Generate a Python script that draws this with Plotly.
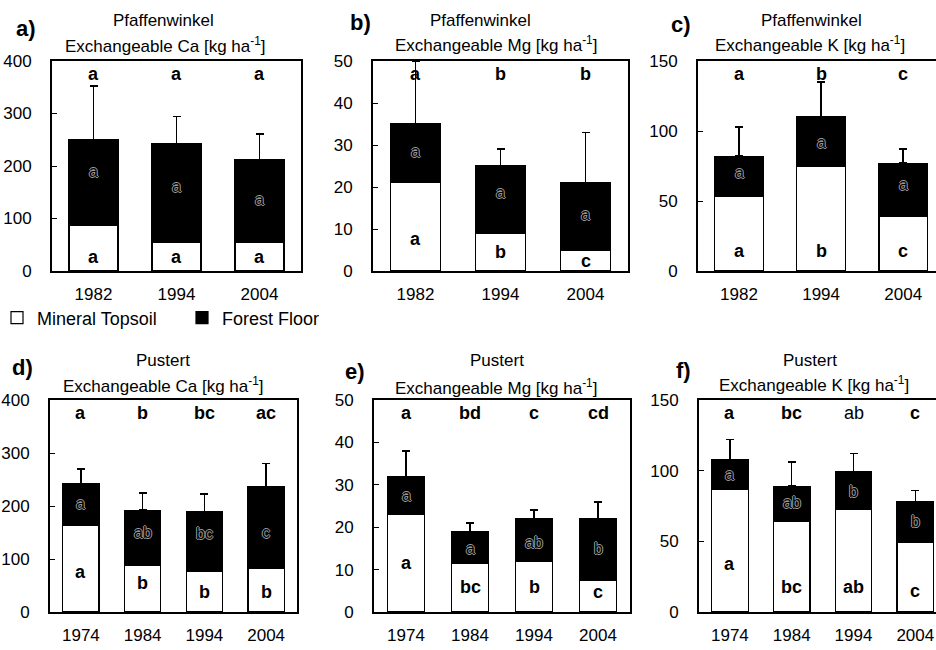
import plotly.graph_objects as go

FONT = "Liberation Sans, Arial, Helvetica, sans-serif"

# ---------------- data ----------------
pf_years = ["1982", "1994", "2004"]
pu_years = ["1974", "1984", "1994", "2004"]

# Pfaffenwinkel Ca
pf_ca_mineral = [87, 54, 54]
pf_ca_forest = [163, 188, 158]
pf_ca_sd = [102, 52, 49]
pf_ca_top = ["a", "a", "a"]
pf_ca_min_lab = ["a", "a", "a"]
pf_ca_min_lab_y = [27, 27, 27]
pf_ca_for_lab = ["a", "a", "a"]
pf_ca_for_lab_y = [190, 161, 136]

# Pfaffenwinkel Mg
pf_mg_mineral = [21, 9, 5]
pf_mg_forest = [14, 16, 16]
pf_mg_sd = [15, 4, 12]
pf_mg_top = ["a", "b", "b"]
pf_mg_min_lab = ["a", "b", "c"]
pf_mg_min_lab_y = [7.5, 4.5, 2.4]
pf_mg_for_lab = ["a", "a", "a"]
pf_mg_for_lab_y = [28.5, 18.7, 13.5]

# Pfaffenwinkel K
pf_k_mineral = [53, 75, 39]
pf_k_forest = [29, 35, 38]
pf_k_sd = [21, 25, 10]
pf_k_top = ["a", "b", "c"]
pf_k_min_lab = ["a", "b", "c"]
pf_k_min_lab_y = [14, 14, 14]
pf_k_for_lab = ["a", "a", "a"]
pf_k_for_lab_y = [70, 92, 62]

# Pustert Ca
pu_ca_mineral = [163, 88, 77, 83]
pu_ca_forest = [79, 104, 113, 154]
pu_ca_sd = [28, 33, 33, 43]
pu_ca_top = ["a", "b", "bc", "ac"]
pu_ca_min_lab = ["a", "b", "b", "b"]
pu_ca_min_lab_y = [75, 54, 38, 38]
pu_ca_for_lab = ["a", "ab", "bc", "c"]
pu_ca_for_lab_y = [205, 150, 148, 150]

# Pustert Mg
pu_mg_mineral = [23, 11.5, 12, 7.5]
pu_mg_forest = [9, 7.5, 10, 14.5]
pu_mg_sd = [6, 2, 2, 4]
pu_mg_top = ["a", "bd", "c", "cd"]
pu_mg_min_lab = ["a", "bc", "b", "c"]
pu_mg_min_lab_y = [11.6, 5.9, 5.9, 4.7]
pu_mg_for_lab = ["a", "a", "ab", "b"]
pu_mg_for_lab_y = [27.4, 15, 16.5, 15]

# Pustert K
pu_k_mineral = [87, 64, 72.5, 49]
pu_k_forest = [21, 25, 26.5, 29]
pu_k_sd = [14, 17, 13, 8]
pu_k_top = ["a", "bc", "ab", "c"]
pu_k_top_bold = [True, True, False, True]
pu_k_min_lab = ["a", "bc", "ab", "c"]
pu_k_min_lab_y = [34, 18, 18, 15]
pu_k_for_lab = ["a", "ab", "b", "b"]
pu_k_for_lab_y = [97, 77.5, 85, 64]

# ---------------- layout helpers ----------------
W, H = 936, 650


def px_x(v):
    return v / W


def px_y(v):
    return 1 - v / H


panels = [
    dict(tag="a)", site="Pfaffenwinkel", elem="Ca", years=pf_years,
         mineral=pf_ca_mineral, forest=pf_ca_forest, sd=pf_ca_sd,
         top=pf_ca_top, top_bold=None, min_lab=pf_ca_min_lab, min_y=pf_ca_min_lab_y,
         for_lab=pf_ca_for_lab, for_y=pf_ca_for_lab_y,
         ymax=400, dtick=100, xdom=(52, 301), ydom=(61, 271), xr=(-0.5, 2.5),
         tag_xy=(26, 28), site_xy=(163, 20), elem_xy=(165, 45)),
    dict(tag="b)", site="Pfaffenwinkel", elem="Mg", years=pf_years,
         mineral=pf_mg_mineral, forest=pf_mg_forest, sd=pf_mg_sd,
         top=pf_mg_top, top_bold=None, min_lab=pf_mg_min_lab, min_y=pf_mg_min_lab_y,
         for_lab=pf_mg_for_lab, for_y=pf_mg_for_lab_y,
         ymax=50, dtick=10, xdom=(373, 628), ydom=(61, 271), xr=(-0.5, 2.5),
         tag_xy=(360, 23), site_xy=(481, 20), elem_xy=(496, 44)),
    dict(tag="c)", site="Pfaffenwinkel", elem="K", years=pf_years,
         mineral=pf_k_mineral, forest=pf_k_forest, sd=pf_k_sd,
         top=pf_k_top, top_bold=None, min_lab=pf_k_min_lab, min_y=pf_k_min_lab_y,
         for_lab=pf_k_for_lab, for_y=pf_k_for_lab_y,
         ymax=150, dtick=50, xdom=(698, 936), ydom=(61, 271), xr=(-0.5, 2.4),
         tag_xy=(681, 24), site_xy=(811, 20), elem_xy=(810, 44)),
    dict(tag="d)", site="Pustert", elem="Ca", years=pu_years,
         mineral=pu_ca_mineral, forest=pu_ca_forest, sd=pu_ca_sd,
         top=pu_ca_top, top_bold=None, min_lab=pu_ca_min_lab, min_y=pu_ca_min_lab_y,
         for_lab=pu_ca_for_lab, for_y=pu_ca_for_lab_y,
         ymax=400, dtick=100, xdom=(50, 297), ydom=(400, 612), xr=(-0.5, 3.5),
         tag_xy=(22, 367), site_xy=(163, 360), elem_xy=(163, 385)),
    dict(tag="e)", site="Pustert", elem="Mg", years=pu_years,
         mineral=pu_mg_mineral, forest=pu_mg_forest, sd=pu_mg_sd,
         top=pu_mg_top, top_bold=None, min_lab=pu_mg_min_lab, min_y=pu_mg_min_lab_y,
         for_lab=pu_mg_for_lab, for_y=pu_mg_for_lab_y,
         ymax=50, dtick=10, xdom=(374, 630), ydom=(400, 612), xr=(-0.5, 3.5),
         tag_xy=(355, 371), site_xy=(497, 360), elem_xy=(496, 387)),
    dict(tag="f)", site="Pustert", elem="K", years=pu_years,
         mineral=pu_k_mineral, forest=pu_k_forest, sd=pu_k_sd,
         top=pu_k_top, top_bold=pu_k_top_bold, min_lab=pu_k_min_lab, min_y=pu_k_min_lab_y,
         for_lab=pu_k_for_lab, for_y=pu_k_for_lab_y,
         ymax=150, dtick=50, xdom=(699, 936), ydom=(400, 612), xr=(-0.5, 3.335),
         tag_xy=(683, 370), site_xy=(810, 360), elem_xy=(814, 384)),
]

fig = go.Figure()
annotations = []
layout_axes = {}

outline_shadow = "1px 0 0 #9a9a9a, -1px 0 0 #9a9a9a, 0 1px 0 #9a9a9a, 0 -1px 0 #9a9a9a"

for i, p in enumerate(panels):
    n = i + 1
    xa = "x" if n == 1 else f"x{n}"
    ya = "y" if n == 1 else f"y{n}"
    fig.add_trace(go.Bar(
        x=p["years"], y=p["mineral"], name="Mineral Topsoil",
        marker=dict(color="white", line=dict(color="black", width=1.2)),
        xaxis=xa, yaxis=ya, showlegend=(n == 1), legendgroup="min",
    ))
    fig.add_trace(go.Bar(
        x=p["years"], y=p["forest"], name="Forest Floor",
        marker=dict(color="black", line=dict(color="black", width=1.2)),
        error_y=dict(type="data", symmetric=False, array=p["sd"],
                     arrayminus=[0] * len(p["sd"]), color="black",
                     thickness=1.5, width=4),
        xaxis=xa, yaxis=ya, showlegend=(n == 1), legendgroup="for",
    ))

    xk = "xaxis" if n == 1 else f"xaxis{n}"
    yk = "yaxis" if n == 1 else f"yaxis{n}"
    layout_axes[xk] = dict(
        domain=[px_x(p["xdom"][0]), px_x(p["xdom"][1])], anchor=ya,
        type="category", range=list(p["xr"]), showline=True, linecolor="black",
        linewidth=1.8, mirror=True, ticks="", showgrid=False, zeroline=False,
        tickfont=dict(family=FONT, size=17, color="black"), ticklabelstandoff=7,
        fixedrange=True, automargin=False,
    )
    layout_axes[yk] = dict(
        domain=[px_y(p["ydom"][1]), px_y(p["ydom"][0])], anchor=xa,
        range=[0, p["ymax"]], dtick=p["dtick"], tick0=0, showline=True,
        linecolor="black", linewidth=1.8, mirror=True, ticks="inside",
        ticklen=5, tickwidth=1.2, tickcolor="black", showgrid=False,
        zeroline=False, tickfont=dict(family=FONT, size=17, color="black"),
        ticklabelstandoff=15, fixedrange=True, automargin=False,
    )

    # panel titles
    annotations.append(dict(text=f"<b>{p['tag']}</b>", xref="paper", yref="paper",
                            x=px_x(p["tag_xy"][0]), y=px_y(p["tag_xy"][1]),
                            xanchor="center", yanchor="middle", showarrow=False,
                            font=dict(family=FONT, size=22, color="black")))
    annotations.append(dict(text=p["site"], xref="paper", yref="paper",
                            x=px_x(p["site_xy"][0]), y=px_y(p["site_xy"][1]),
                            xanchor="center", yanchor="middle", showarrow=False,
                            font=dict(family=FONT, size=17, color="black")))
    annotations.append(dict(text=f"Exchangeable {p['elem']} [kg ha<sup>-1</sup>]",
                            xref="paper", yref="paper",
                            x=px_x(p["elem_xy"][0]), y=px_y(p["elem_xy"][1]),
                            xanchor="center", yanchor="middle", showarrow=False,
                            font=dict(family=FONT, size=17, color="black")))

    # significance letters (x given as category index)
    for j in range(len(p["years"])):
        bold = True if p["top_bold"] is None else p["top_bold"][j]
        annotations.append(dict(text=p["top"][j], xref=xa, yref=f"{ya} domain",
                                x=j, y=0.94, xanchor="center", yanchor="middle",
                                showarrow=False,
                                font=dict(family=FONT, size=18, color="black",
                                          weight="bold" if bold else "normal")))
        annotations.append(dict(text=p["min_lab"][j], xref=xa, yref=ya,
                                x=j, y=p["min_y"][j], xanchor="center",
                                yanchor="middle", showarrow=False,
                                font=dict(family=FONT, size=18, color="black",
                                          weight="bold")))
        annotations.append(dict(text=p["for_lab"][j], xref=xa, yref=ya,
                                x=j, y=p["for_y"][j], xanchor="center",
                                yanchor="middle", showarrow=False,
                                font=dict(family=FONT, size=16, color="black",
                                          shadow=outline_shadow)))

fig.update_layout(
    width=W, height=H,
    margin=dict(l=0, r=0, t=0, b=0, autoexpand=False),
    paper_bgcolor="white", plot_bgcolor="white",
    barmode="stack", bargap=0.41,
    showlegend=True,
    legend=dict(orientation="h", x=-3 / W, xanchor="left", y=px_y(318), yanchor="middle",
                traceorder="normal", font=dict(family=FONT, size=18, color="black"),
                entrywidth=140, entrywidthmode="pixels", itemwidth=30,
                bgcolor="rgba(0,0,0,0)"),
    annotations=annotations,
    font=dict(family=FONT, color="black"),
    **layout_axes,
)

fig.write_html(
    "out.html",
    config={"displayModeBar": False},
    post_script="document.body.style.margin='0';document.body.style.overflow='hidden';",
)
